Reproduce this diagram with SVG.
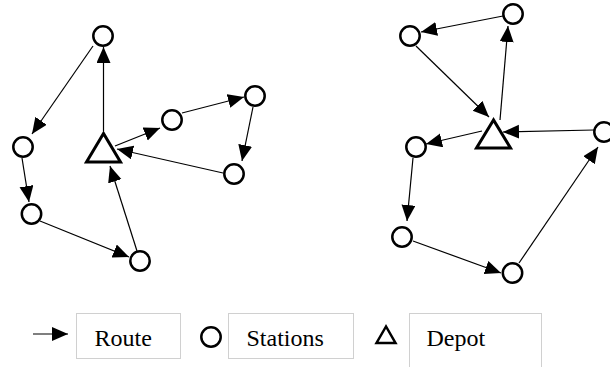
<svg xmlns="http://www.w3.org/2000/svg" width="610" height="367" viewBox="0 0 610 367">
  <style>
    .station { fill: #fff; stroke: #000; stroke-width: 2.5; }
    .depot { fill: #fff; stroke: #000; stroke-width: 3; stroke-linejoin: miter; }
    .route { stroke: #000; stroke-width: 1.2; fill: none; marker-end: url(#head); }
    .box { fill: #fff; stroke: #d0d0d0; stroke-width: 1; }
    text { font-family: "Liberation Serif", "Times New Roman", serif; font-size: 24px; fill: #000; }
  </style>
  <defs>
    <marker id="head" markerUnits="userSpaceOnUse" markerWidth="17" markerHeight="15" refX="16" refY="7" orient="auto">
      <path d="M0,0 L16,7 L0,14 z" fill="#000"/>
    </marker>
  </defs>

  <rect width="610" height="367" fill="#fff"/>

  <!-- connectors -->
  <g id="connectors">
    <!-- left tour -->
    <line class="route" x1="103.5" y1="131" x2="103.5" y2="47"/>
    <line class="route" x1="93" y1="46" x2="32" y2="134"/>
    <line class="route" x1="22" y1="158" x2="29" y2="202"/>
    <line class="route" x1="40" y1="221" x2="129" y2="257"/>
    <line class="route" x1="137" y1="251" x2="110" y2="166"/>
    <line class="route" x1="115" y1="146" x2="160" y2="128"/>
    <line class="route" x1="182" y1="113" x2="244" y2="97"/>
    <line class="route" x1="253" y1="107" x2="242" y2="161"/>
    <line class="route" x1="223" y1="173" x2="117" y2="149"/>
    <!-- right tour -->
    <line class="route" x1="503" y1="16" x2="421" y2="32"/>
    <line class="route" x1="416" y1="46" x2="489" y2="117"/>
    <line class="route" x1="500" y1="120" x2="508" y2="26"/>
    <line class="route" x1="594" y1="130" x2="503" y2="132"/>
    <line class="route" x1="482" y1="131" x2="426" y2="144"/>
    <line class="route" x1="413" y1="158" x2="407" y2="221"/>
    <line class="route" x1="413" y1="241" x2="501" y2="273"/>
    <line class="route" x1="519" y1="263" x2="598" y2="147"/>
  </g>

  <!-- left network -->
  <g id="depot-left"><polygon class="depot" points="103.5,133.5 86.5,162 120.5,162"/></g>
  <g id="s-l1"><circle class="station" cx="103" cy="36" r="9.7"/></g>
  <g id="s-l2"><circle class="station" cx="23" cy="147" r="9.7"/></g>
  <g id="s-l3"><circle class="station" cx="31.5" cy="214" r="9.7"/></g>
  <g id="s-l4"><circle class="station" cx="140" cy="261" r="9.7"/></g>
  <g id="s-l5"><circle class="station" cx="172" cy="120" r="9.7"/></g>
  <g id="s-l6"><circle class="station" cx="255" cy="96" r="9.7"/></g>
  <g id="s-l7"><circle class="station" cx="234" cy="174" r="9.7"/></g>

  <!-- right network -->
  <g id="depot-right"><polygon class="depot" points="493.5,120 476.5,148 510.5,148"/></g>
  <g id="s-r1"><circle class="station" cx="513" cy="14" r="9.7"/></g>
  <g id="s-r2"><circle class="station" cx="410" cy="36" r="9.7"/></g>
  <g id="s-r3"><circle class="station" cx="416" cy="147" r="9.7"/></g>
  <g id="s-r4"><circle class="station" cx="402" cy="237" r="9.7"/></g>
  <g id="s-r5"><circle class="station" cx="512.5" cy="273" r="9.7"/></g>
  <g id="s-r6"><circle class="station" cx="604" cy="132" r="9.7"/></g>

  <!-- legend -->
  <g id="legend-route">
    <line class="route" x1="33" y1="334" x2="68" y2="334"/>
    <rect class="box" x="76.5" y="313.5" width="104" height="45"/>
    <text x="94.5" y="346">Route</text>
  </g>
  <g id="legend-stations">
    <circle class="station" cx="211" cy="337" r="9.7"/>
    <rect class="box" x="228.5" y="313.5" width="125" height="45"/>
    <text x="246.5" y="346">Stations</text>
  </g>
  <g id="legend-depot">
    <polygon class="depot" points="386,326.5 376.5,343 395.5,343" style="stroke-width:2.5"/>
    <rect class="box" x="409.5" y="313.5" width="132" height="60"/>
    <text x="426.5" y="346">Depot</text>
  </g>
</svg>
